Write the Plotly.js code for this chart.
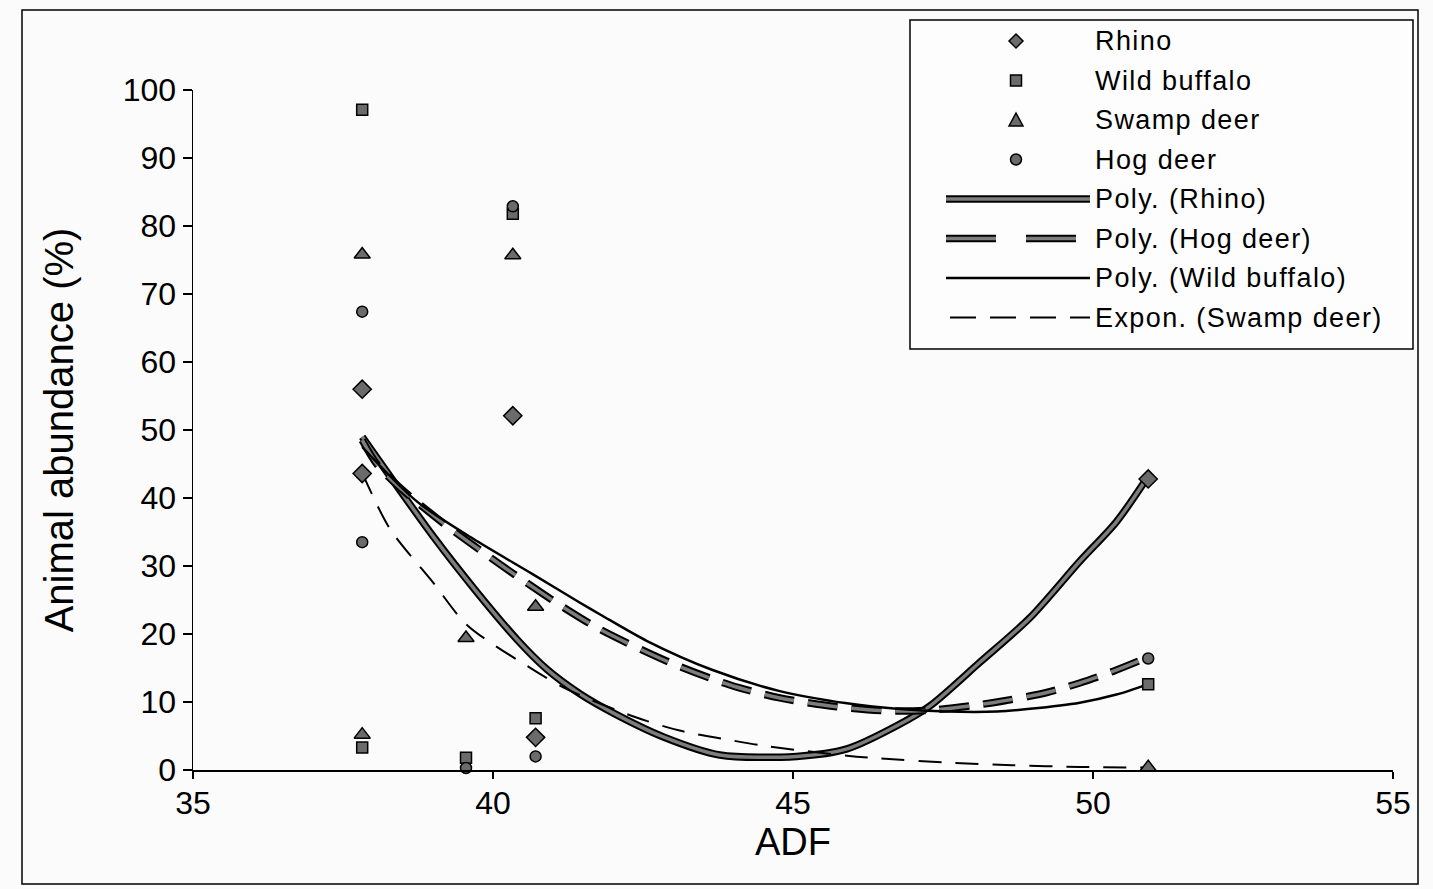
<!DOCTYPE html>
<html>
<head>
<meta charset="utf-8">
<script src="https://cdn.plot.ly/plotly-3.0.1.min.js"></script>
<style>
  html, body { margin: 0; padding: 0; background: #fbfbfb; }
  #chart { width: 1433px; height: 889px; }
</style>
</head>
<body>
<div id="chart"></div>
<script>
// ---- Data ----
const ADF_RHINO = [37.82, 37.82, 40.33, 40.71, 50.92];
const RHINO = [56.0, 43.6, 52.1, 4.8, 42.8];

const ADF_OTHER = [37.82, 37.82, 39.55, 40.33, 40.71, 50.92];
const WILD_BUFFALO = [97.1, 3.3, 1.8, 81.8, 7.6, 12.6];
const SWAMP_DEER = [75.8, 5.2, 19.4, 75.7, 24.0, 0.4];
const HOG_DEER = [67.4, 33.5, 0.3, 82.9, 2.0, 16.4];

// Trend lines as drawn in the picture
const RHINO_FIT_X = [37.82, 39.0, 39.7, 40.4, 40.9, 41.45, 42.0, 42.83, 43.78, 45.06, 45.9, 46.73, 47.28, 48.11, 48.95, 49.78, 50.39, 50.92];
const RHINO_FIT_Y = [49.0, 34.4, 26.5, 19.2, 14.8, 11.2, 8.4, 4.9, 2.2, 2.0, 3.1, 6.5, 9.4, 15.8, 22.4, 30.7, 36.5, 43.2];

const HOG_FIT_X = [37.82, 38.07, 38.45, 39.17, 39.9, 40.4, 41.23, 41.8, 42.95, 43.95, 44.78, 45.73, 46.56, 47.28, 48.33, 49.23, 49.78, 50.33, 50.92];
const HOG_FIT_Y = [48.5, 44.9, 41.5, 36.3, 31.6, 28.5, 23.6, 20.6, 15.8, 12.5, 10.6, 9.3, 8.7, 8.8, 9.9, 11.4, 12.8, 14.5, 16.6];

const BUFFALO_FIT_X = [37.82, 38.73, 39.67, 40.66, 41.45, 41.8, 42.56, 43.66, 44.78, 45.9, 46.73, 47.56, 48.4, 48.95, 49.78, 50.39, 50.92];
const BUFFALO_FIT_Y = [47.5, 39.5, 34.0, 28.8, 24.6, 22.8, 19.0, 14.7, 11.6, 9.8, 9.0, 8.6, 8.6, 9.0, 9.9, 11.1, 12.6];

const SWAMP_FIT_X = [37.82, 38.28, 39.0, 39.57, 40.66, 41.23, 42.33, 43.11, 43.95, 44.56, 45.9, 46.45, 47.56, 48.66, 49.78, 50.92];
const SWAMP_FIT_Y = [43.7, 35.5, 27.6, 21.3, 14.8, 11.9, 7.9, 5.8, 4.4, 3.5, 2.1, 1.7, 1.1, 0.7, 0.45, 0.35];

const LEGEND_LABELS = ['Rhino', 'Wild buffalo', 'Swamp deer', 'Hog deer',
  'Poly. (Rhino)', 'Poly. (Hog deer)', 'Poly. (Wild buffalo)', 'Expon. (Swamp deer)'];

const X_TICKS = [35, 40, 45, 50, 55];
const Y_TICKS = [0, 10, 20, 30, 40, 50, 60, 70, 80, 90, 100];

// ---- Styles ----
const FONT = 'Liberation Sans, Arial, sans-serif';
const MARKER_FILL = '#6b6b6b';
const LINE_GRAY = '#7d7d7d';
const HOG_DASH = '30px,14px';
const SWAMP_DASH = '23px,14px';

const W = 1433, H = 889;
const M = { l: 193, r: 40, t: 90, b: 119 };
const PW = W - M.l - M.r, PH = H - M.t - M.b;
const px2x = p => (p - M.l) / PW;
const px2y = p => (H - M.b - p) / PH;

const traces = [];
// trend lines (outlined thick ones: black underlay + gray core)
traces.push({ x: RHINO_FIT_X, y: RHINO_FIT_Y, mode: 'lines', name: 'Poly. (Rhino)', showlegend: false,
  line: { color: '#000', width: 7.5, shape: 'spline', smoothing: 0.8 }, hoverinfo: 'skip' });
traces.push({ x: RHINO_FIT_X, y: RHINO_FIT_Y, mode: 'lines', name: 'Poly. (Rhino)', showlegend: false,
  line: { color: LINE_GRAY, width: 3.5, shape: 'spline', smoothing: 0.8 } });
traces.push({ x: HOG_FIT_X, y: HOG_FIT_Y, mode: 'lines', name: 'Poly. (Hog deer)', showlegend: false,
  line: { color: '#000', width: 7.5, dash: HOG_DASH, shape: 'spline', smoothing: 0.8 }, hoverinfo: 'skip' });
traces.push({ x: HOG_FIT_X, y: HOG_FIT_Y, mode: 'lines', name: 'Poly. (Hog deer)', showlegend: false,
  line: { color: LINE_GRAY, width: 3.5, dash: HOG_DASH, shape: 'spline', smoothing: 0.8 } });
traces.push({ x: BUFFALO_FIT_X, y: BUFFALO_FIT_Y, mode: 'lines', name: 'Poly. (Wild buffalo)', showlegend: false,
  line: { color: '#000', width: 2.5, shape: 'spline', smoothing: 0.8 } });
traces.push({ x: SWAMP_FIT_X, y: SWAMP_FIT_Y, mode: 'lines', name: 'Expon. (Swamp deer)', showlegend: false,
  line: { color: '#000', width: 2, dash: SWAMP_DASH, shape: 'spline', smoothing: 0.8 } });

// markers
const mk = (sym, size) => ({ symbol: sym, size: size, color: MARKER_FILL, line: { color: '#000', width: 1.5 } });
traces.push({ x: ADF_RHINO, y: RHINO, mode: 'markers', name: 'Rhino', showlegend: false, cliponaxis: false, marker: mk('diamond', 14) });
traces.push({ x: ADF_OTHER, y: WILD_BUFFALO, mode: 'markers', name: 'Wild buffalo', showlegend: false, cliponaxis: false, marker: mk('square', 11) });
traces.push({ x: ADF_OTHER, y: SWAMP_DEER, mode: 'markers', name: 'Swamp deer', showlegend: false, cliponaxis: false, marker: mk('triangle-up', 14) });
traces.push({ x: ADF_OTHER, y: HOG_DEER, mode: 'markers', name: 'Hog deer', showlegend: false, cliponaxis: false, marker: mk('circle', 11) });

// ---- custom legend (box, samples, labels) ----
const shapes = [];
const annotations = [];
// outer chart border
shapes.push({ type: 'rect', xref: 'paper', yref: 'paper', x0: px2x(22), x1: px2x(1418), y0: px2y(884), y1: px2y(10),
  line: { color: '#000', width: 1.5 }, layer: 'below' });
// legend box
shapes.push({ type: 'rect', xref: 'paper', yref: 'paper', x0: px2x(910), x1: px2x(1413), y0: px2y(349), y1: px2y(20),
  line: { color: '#000', width: 1.5 }, fillcolor: '#fdfdfd', layer: 'above' });

const rowY = LEGEND_LABELS.map((_, i) => 41 + i * 39.5);
const mx = px2x(1016);
const markerShape = (i, path) => shapes.push({ type: 'path', xref: 'paper', yref: 'paper', xsizemode: 'pixel', ysizemode: 'pixel',
  xanchor: mx, yanchor: px2y(rowY[i]), path: path, fillcolor: MARKER_FILL, line: { color: '#000', width: 1.5 }, layer: 'above' });
markerShape(0, 'M0,7 L7,0 L0,-7 L-7,0 Z');
markerShape(1, 'M-5.5,-5.5 L5.5,-5.5 L5.5,5.5 L-5.5,5.5 Z');
markerShape(2, 'M-7,-6 L7,-6 L0,7 Z');
shapes.push({ type: 'circle', xref: 'paper', yref: 'paper', xsizemode: 'pixel', ysizemode: 'pixel',
  xanchor: mx, yanchor: px2y(rowY[3]), x0: -5.5, x1: 5.5, y0: -5.5, y1: 5.5,
  fillcolor: MARKER_FILL, line: { color: '#000', width: 1.5 }, layer: 'above' });

const lineSample = (i, color, width, dash, x0p) => shapes.push({ type: 'line', xref: 'paper', yref: 'paper',
  x0: px2x(x0p || 946), x1: px2x(1090), y0: px2y(rowY[i]), y1: px2y(rowY[i]),
  line: { color: color, width: width, dash: dash || 'solid' }, layer: 'above' });
lineSample(4, '#000', 7.5);
lineSample(4, LINE_GRAY, 3.5);
lineSample(5, '#000', 7.5, '50px,30px');
lineSample(5, LINE_GRAY, 3.5, '50px,30px');
lineSample(6, '#000', 2.5);
lineSample(7, '#000', 2, '26px,14px', 950);

LEGEND_LABELS.forEach((t, i) => annotations.push({ xref: 'paper', yref: 'paper', x: px2x(1093), y: px2y(rowY[i]),
  xanchor: 'left', yanchor: 'middle', text: '<span style="letter-spacing:1.4px">' + t + '</span>', showarrow: false,
  font: { family: FONT, size: 27, color: '#000' } }));

const layout = {
  width: W, height: H,
  margin: M,
  paper_bgcolor: '#fbfbfb',
  plot_bgcolor: 'rgba(0,0,0,0)',
  showlegend: false,
  font: { family: FONT, color: '#000' },
  xaxis: {
    range: [35, 55], tickvals: X_TICKS, ticktext: X_TICKS.map(String),
    showline: true, linecolor: '#000', linewidth: 1.5, showgrid: false, zeroline: false,
    ticks: 'outside', ticklen: 7, tickcolor: '#000', tickwidth: 1.5,
    ticklabelstandoff: -3,
    tickfont: { family: FONT, size: 32, color: '#000' },
    title: { text: 'ADF', font: { family: FONT, size: 38, color: '#000' }, standoff: 2 }
  },
  yaxis: {
    range: [0, 100], tickvals: Y_TICKS, ticktext: Y_TICKS.map(String),
    showline: true, linecolor: '#000', linewidth: 1.5, showgrid: false, zeroline: false,
    ticks: 'outside', ticklen: 9, tickcolor: '#000', tickwidth: 1.5,
    tickfont: { family: FONT, size: 32, color: '#000' },
    title: { text: 'Animal abundance (%)', font: { family: FONT, size: 40, color: '#000' }, standoff: 36 }
  },
  shapes: shapes,
  annotations: annotations
};

Plotly.newPlot('chart', traces, layout, { displayModeBar: false, staticPlot: true });
</script>
</body>
</html>
